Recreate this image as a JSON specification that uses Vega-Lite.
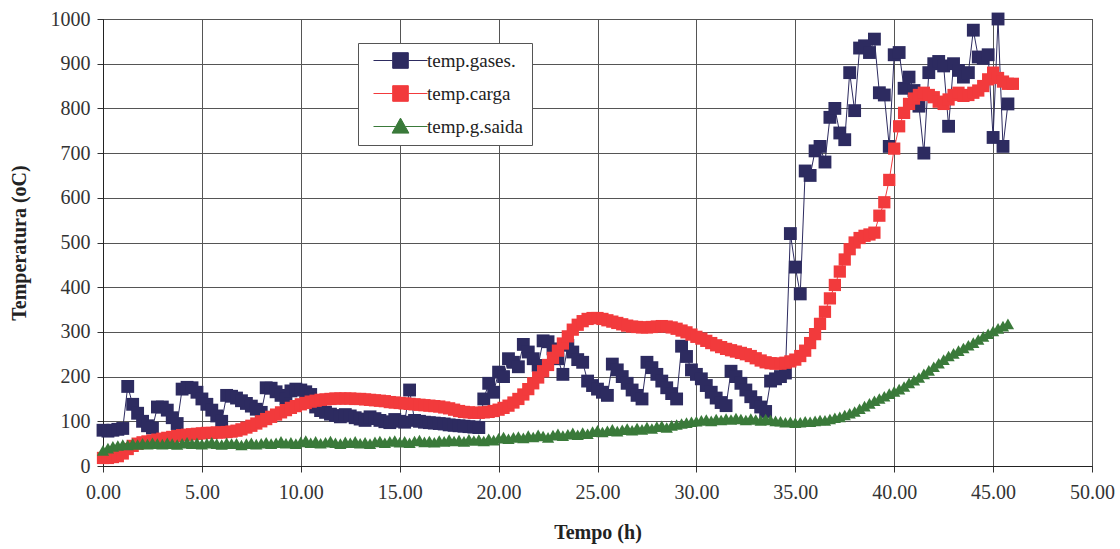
{
  "$schema": "https://vega.github.io/schema/vega-lite/v6.json",
  "width": 989,
  "height": 447,
  "autosize": {"type": "none"},
  "padding": {"left": 103, "top": 19, "right": 28, "bottom": 83},
  "background": "white",
  "config": {
    "view": {"stroke": "#222", "strokeWidth": 1},
    "font": "Liberation Serif",
    "axis": {
      "labelFont": "Liberation Serif",
      "labelFontSize": 20,
      "labelColor": "#333",
      "labelFlush": false,
      "titleFont": "Liberation Serif",
      "titleFontSize": 20,
      "titleFontWeight": "bold",
      "titleColor": "#222",
      "domainColor": "#222",
      "tickColor": "#333",
      "tickSize": 6,
      "gridColor": "#555",
      "gridWidth": 1,
      "grid": true
    }
  },
  "data": {"values": [
    {"t":0,"g":80,"c":18,"s":35},{"t":0.25,"g":78,"c":18,"s":40},{"t":0.5,"g":80,"c":20,"s":44},{"t":0.75,"g":82,"c":22,"s":46},
    {"t":1,"g":84,"c":28,"s":48},{"t":1.25,"g":178,"c":38,"s":47},{"t":1.5,"g":138,"c":45,"s":50},{"t":1.75,"g":118,"c":50,"s":48},
    {"t":2,"g":100,"c":53,"s":51},{"t":2.25,"g":90,"c":55,"s":49},{"t":2.5,"g":85,"c":57,"s":52},{"t":2.75,"g":132,"c":59,"s":50},
    {"t":3,"g":132,"c":61,"s":49},{"t":3.25,"g":125,"c":63,"s":52},{"t":3.5,"g":108,"c":65,"s":50},{"t":3.75,"g":95,"c":67,"s":48},
    {"t":4,"g":172,"c":69,"s":51},{"t":4.25,"g":176,"c":70,"s":53},{"t":4.5,"g":175,"c":71,"s":50},{"t":4.75,"g":165,"c":72,"s":52},
    {"t":5,"g":150,"c":73,"s":49},{"t":5.25,"g":138,"c":74,"s":51},{"t":5.5,"g":125,"c":74,"s":53},{"t":5.75,"g":112,"c":75,"s":50},
    {"t":6,"g":100,"c":75,"s":48},{"t":6.25,"g":158,"c":76,"s":52},{"t":6.5,"g":156,"c":77,"s":50},{"t":6.75,"g":152,"c":79,"s":51},
    {"t":7,"g":146,"c":82,"s":47},{"t":7.25,"g":140,"c":86,"s":50},{"t":7.5,"g":134,"c":90,"s":52},{"t":7.75,"g":127,"c":95,"s":49},
    {"t":8,"g":120,"c":100,"s":51},{"t":8.25,"g":175,"c":105,"s":53},{"t":8.5,"g":174,"c":110,"s":50},{"t":8.75,"g":166,"c":115,"s":52},
    {"t":9,"g":158,"c":120,"s":55},{"t":9.25,"g":150,"c":125,"s":51},{"t":9.5,"g":168,"c":130,"s":53},{"t":9.75,"g":172,"c":134,"s":50},
    {"t":10,"g":170,"c":138,"s":54},{"t":10.25,"g":166,"c":141,"s":57},{"t":10.5,"g":160,"c":144,"s":52},{"t":10.75,"g":132,"c":146,"s":55},
    {"t":11,"g":124,"c":148,"s":51},{"t":11.25,"g":120,"c":149,"s":53},{"t":11.5,"g":116,"c":150,"s":56},{"t":11.75,"g":113,"c":151,"s":52},
    {"t":12,"g":110,"c":151,"s":50},{"t":12.25,"g":115,"c":151,"s":54},{"t":12.5,"g":112,"c":151,"s":52},{"t":12.75,"g":108,"c":150,"s":55},
    {"t":13,"g":105,"c":150,"s":51},{"t":13.25,"g":102,"c":149,"s":53},{"t":13.5,"g":110,"c":148,"s":50},{"t":13.75,"g":106,"c":147,"s":54},
    {"t":14,"g":102,"c":146,"s":56},{"t":14.25,"g":99,"c":145,"s":52},{"t":14.5,"g":97,"c":143,"s":55},{"t":14.75,"g":104,"c":142,"s":57},
    {"t":15,"g":100,"c":141,"s":53},{"t":15.25,"g":98,"c":140,"s":55},{"t":15.5,"g":170,"c":139,"s":52},{"t":15.75,"g":102,"c":138,"s":56},
    {"t":16,"g":100,"c":137,"s":58},{"t":16.25,"g":98,"c":136,"s":54},{"t":16.5,"g":97,"c":135,"s":56},{"t":16.75,"g":96,"c":134,"s":53},
    {"t":17,"g":95,"c":133,"s":57},{"t":17.25,"g":94,"c":131,"s":55},{"t":17.5,"g":92,"c":129,"s":59},{"t":17.75,"g":91,"c":126,"s":56},
    {"t":18,"g":90,"c":123,"s":58},{"t":18.25,"g":89,"c":121,"s":55},{"t":18.5,"g":88,"c":120,"s":60},{"t":18.75,"g":87,"c":119,"s":57},
    {"t":19,"g":86,"c":119,"s":59},{"t":19.25,"g":150,"c":120,"s":56},{"t":19.5,"g":185,"c":121,"s":61},{"t":19.75,"g":165,"c":123,"s":58},
    {"t":20,"g":210,"c":126,"s":62},{"t":20.25,"g":200,"c":130,"s":65},{"t":20.5,"g":240,"c":135,"s":61},{"t":20.75,"g":232,"c":142,"s":64},
    {"t":21,"g":222,"c":150,"s":66},{"t":21.25,"g":272,"c":160,"s":63},{"t":21.5,"g":255,"c":172,"s":68},{"t":21.75,"g":240,"c":185,"s":65},
    {"t":22,"g":225,"c":198,"s":70},{"t":22.25,"g":280,"c":212,"s":67},{"t":22.5,"g":278,"c":226,"s":64},{"t":22.75,"g":262,"c":242,"s":69},
    {"t":23,"g":240,"c":258,"s":72},{"t":23.25,"g":205,"c":274,"s":68},{"t":23.5,"g":270,"c":290,"s":71},{"t":23.75,"g":255,"c":305,"s":74},
    {"t":24,"g":238,"c":316,"s":70},{"t":24.25,"g":232,"c":324,"s":75},{"t":24.5,"g":190,"c":329,"s":72},{"t":24.75,"g":180,"c":331,"s":77},
    {"t":25,"g":172,"c":331,"s":80},{"t":25.25,"g":165,"c":329,"s":76},{"t":25.5,"g":158,"c":326,"s":79},{"t":25.75,"g":228,"c":323,"s":82},
    {"t":26,"g":215,"c":320,"s":78},{"t":26.25,"g":200,"c":317,"s":81},{"t":26.5,"g":185,"c":314,"s":84},{"t":26.75,"g":170,"c":312,"s":80},
    {"t":27,"g":158,"c":311,"s":85},{"t":27.25,"g":150,"c":310,"s":82},{"t":27.5,"g":232,"c":310,"s":87},{"t":27.75,"g":220,"c":311,"s":84},
    {"t":28,"g":205,"c":312,"s":88},{"t":28.25,"g":190,"c":313,"s":90},{"t":28.5,"g":175,"c":312,"s":86},{"t":28.75,"g":162,"c":310,"s":91},
    {"t":29,"g":150,"c":307,"s":93},{"t":29.25,"g":268,"c":303,"s":95},{"t":29.5,"g":245,"c":299,"s":97},{"t":29.75,"g":215,"c":294,"s":99},
    {"t":30,"g":205,"c":289,"s":100},{"t":30.25,"g":195,"c":285,"s":102},{"t":30.5,"g":180,"c":280,"s":104},{"t":30.75,"g":165,"c":275,"s":101},
    {"t":31,"g":152,"c":270,"s":105},{"t":31.25,"g":142,"c":266,"s":103},{"t":31.5,"g":135,"c":262,"s":106},{"t":31.75,"g":212,"c":259,"s":104},
    {"t":32,"g":200,"c":256,"s":107},{"t":32.25,"g":185,"c":253,"s":105},{"t":32.5,"g":170,"c":250,"s":103},{"t":32.75,"g":155,"c":246,"s":106},
    {"t":33,"g":142,"c":241,"s":104},{"t":33.25,"g":132,"c":236,"s":102},{"t":33.5,"g":122,"c":232,"s":105},{"t":33.75,"g":190,"c":230,"s":103},
    {"t":34,"g":195,"c":229,"s":101},{"t":34.25,"g":200,"c":229,"s":100},{"t":34.5,"g":208,"c":231,"s":98},{"t":34.75,"g":520,"c":234,"s":99},
    {"t":35,"g":445,"c":238,"s":97},{"t":35.25,"g":385,"c":246,"s":98},{"t":35.5,"g":660,"c":258,"s":100},{"t":35.75,"g":650,"c":275,"s":99},
    {"t":36,"g":705,"c":295,"s":101},{"t":36.25,"g":715,"c":318,"s":103},{"t":36.5,"g":680,"c":345,"s":102},{"t":36.75,"g":780,"c":375,"s":105},
    {"t":37,"g":800,"c":405,"s":108},{"t":37.25,"g":745,"c":435,"s":110},{"t":37.5,"g":730,"c":462,"s":114},{"t":37.75,"g":880,"c":485,"s":118},
    {"t":38,"g":795,"c":500,"s":122},{"t":38.25,"g":935,"c":510,"s":128},{"t":38.5,"g":940,"c":515,"s":134},{"t":38.75,"g":925,"c":518,"s":140},
    {"t":39,"g":955,"c":522,"s":146},{"t":39.25,"g":835,"c":560,"s":151},{"t":39.5,"g":830,"c":590,"s":156},{"t":39.75,"g":715,"c":640,"s":162},
    {"t":40,"g":920,"c":710,"s":167},{"t":40.25,"g":925,"c":760,"s":172},{"t":40.5,"g":845,"c":790,"s":178},{"t":40.75,"g":870,"c":810,"s":186},
    {"t":41,"g":840,"c":822,"s":192},{"t":41.25,"g":805,"c":830,"s":198},{"t":41.5,"g":700,"c":835,"s":206},{"t":41.75,"g":880,"c":830,"s":214},
    {"t":42,"g":900,"c":825,"s":222},{"t":42.25,"g":905,"c":815,"s":230},{"t":42.5,"g":895,"c":810,"s":238},{"t":42.75,"g":760,"c":820,"s":246},
    {"t":43,"g":900,"c":830,"s":252},{"t":43.25,"g":885,"c":835,"s":258},{"t":43.5,"g":870,"c":828,"s":264},{"t":43.75,"g":880,"c":830,"s":270},
    {"t":44,"g":975,"c":835,"s":276},{"t":44.25,"g":915,"c":840,"s":283},{"t":44.5,"g":912,"c":850,"s":290},{"t":44.75,"g":920,"c":865,"s":296},
    {"t":45,"g":735,"c":880,"s":302},{"t":45.25,"g":1000,"c":868,"s":308},{"t":45.5,"g":715,"c":860,"s":313},{"t":45.75,"g":810,"c":855,"s":318},
    {"t":46,"c":855}
  ]},
  "encoding": {
    "x": {
      "field": "t",
      "type": "quantitative",
      "scale": {"domain": [0, 50], "nice": false, "zero": false},
      "axis": {
        "values": [0, 5, 10, 15, 20, 25, 30, 35, 40, 45, 50],
        "format": ".2f",
        "title": "Tempo (h)",
        "labelFont": "Liberation Serif",
        "labelFlush": false,
        "labelPadding": 10,
        "titlePadding": 20
      }
    }
  },
  "layer": [
    {
      "mark": {"type": "line", "strokeWidth": 1, "point": {"filled": true, "shape": "square", "size": 165, "opacity": 1}},
      "encoding": {
        "y": {
          "field": "g",
          "type": "quantitative",
          "title": "Temperatura (oC)",
          "scale": {"domain": [0, 1000], "nice": false},
          "axis": {"values": [0,100,200,300,400,500,600,700,800,900,1000], "format": "d", "labelFont": "Liberation Serif", "labelFlush": false, "labelPadding": 7, "titlePadding": 21}
        },
        "color": {
          "datum": "temp.gases.",
          "type": "nominal",
          "scale": {"domain": ["temp.gases.", "temp.carga", "temp.g.saida"], "range": ["#2d2b60", "#f23a3c", "#3a7a3a"]},
          "legend": {
            "title": null,
            "orient": "none",
            "legendX": 255,
            "legendY": 24,
            "direction": "vertical",
            "fillColor": "white",
            "strokeColor": "#555",
            "padding": 8,
            "rowPadding": 12,
            "symbolSize": 144,
            "symbolOffset": 25,
            "labelOffset": 17,
            "labelFont": "Liberation Serif",
            "labelFontSize": 19,
            "labelColor": "#222",
            "symbolStrokeWidth": 1,
            "encode": {
              "symbols": {
                "update": {
                  "shape": {"signal": "datum.value === 'temp.g.saida' ? 'M-4.5,0H-0.8M0.8,0H4.5M0,-1.4L1.4,1.1H-1.4Z' : 'M-4.5,0H-1.3M1.3,0H4.5M-1.3,-1.3H1.3V1.3H-1.3Z'"},
                  "fill": {"scale": "color", "field": "value"},
                  "stroke": {"scale": "color", "field": "value"},
                  "strokeWidth": {"value": 1},
                  "opacity": {"value": 1}
                }
              }
            }
          }
        }
      }
    },
    {
      "mark": {"type": "line", "strokeWidth": 1, "point": {"filled": true, "shape": "square", "size": 150, "opacity": 1}},
      "encoding": {
        "y": {"field": "c", "type": "quantitative", "title": "Temperatura (oC)"},
        "color": {"datum": "temp.carga", "type": "nominal"}
      }
    },
    {
      "mark": {"type": "line", "strokeWidth": 1, "point": {"filled": true, "shape": "triangle-up", "size": 150, "opacity": 1}},
      "encoding": {
        "y": {"field": "s", "type": "quantitative", "title": "Temperatura (oC)"},
        "color": {"datum": "temp.g.saida", "type": "nominal"}
      }
    }
  ]
}
